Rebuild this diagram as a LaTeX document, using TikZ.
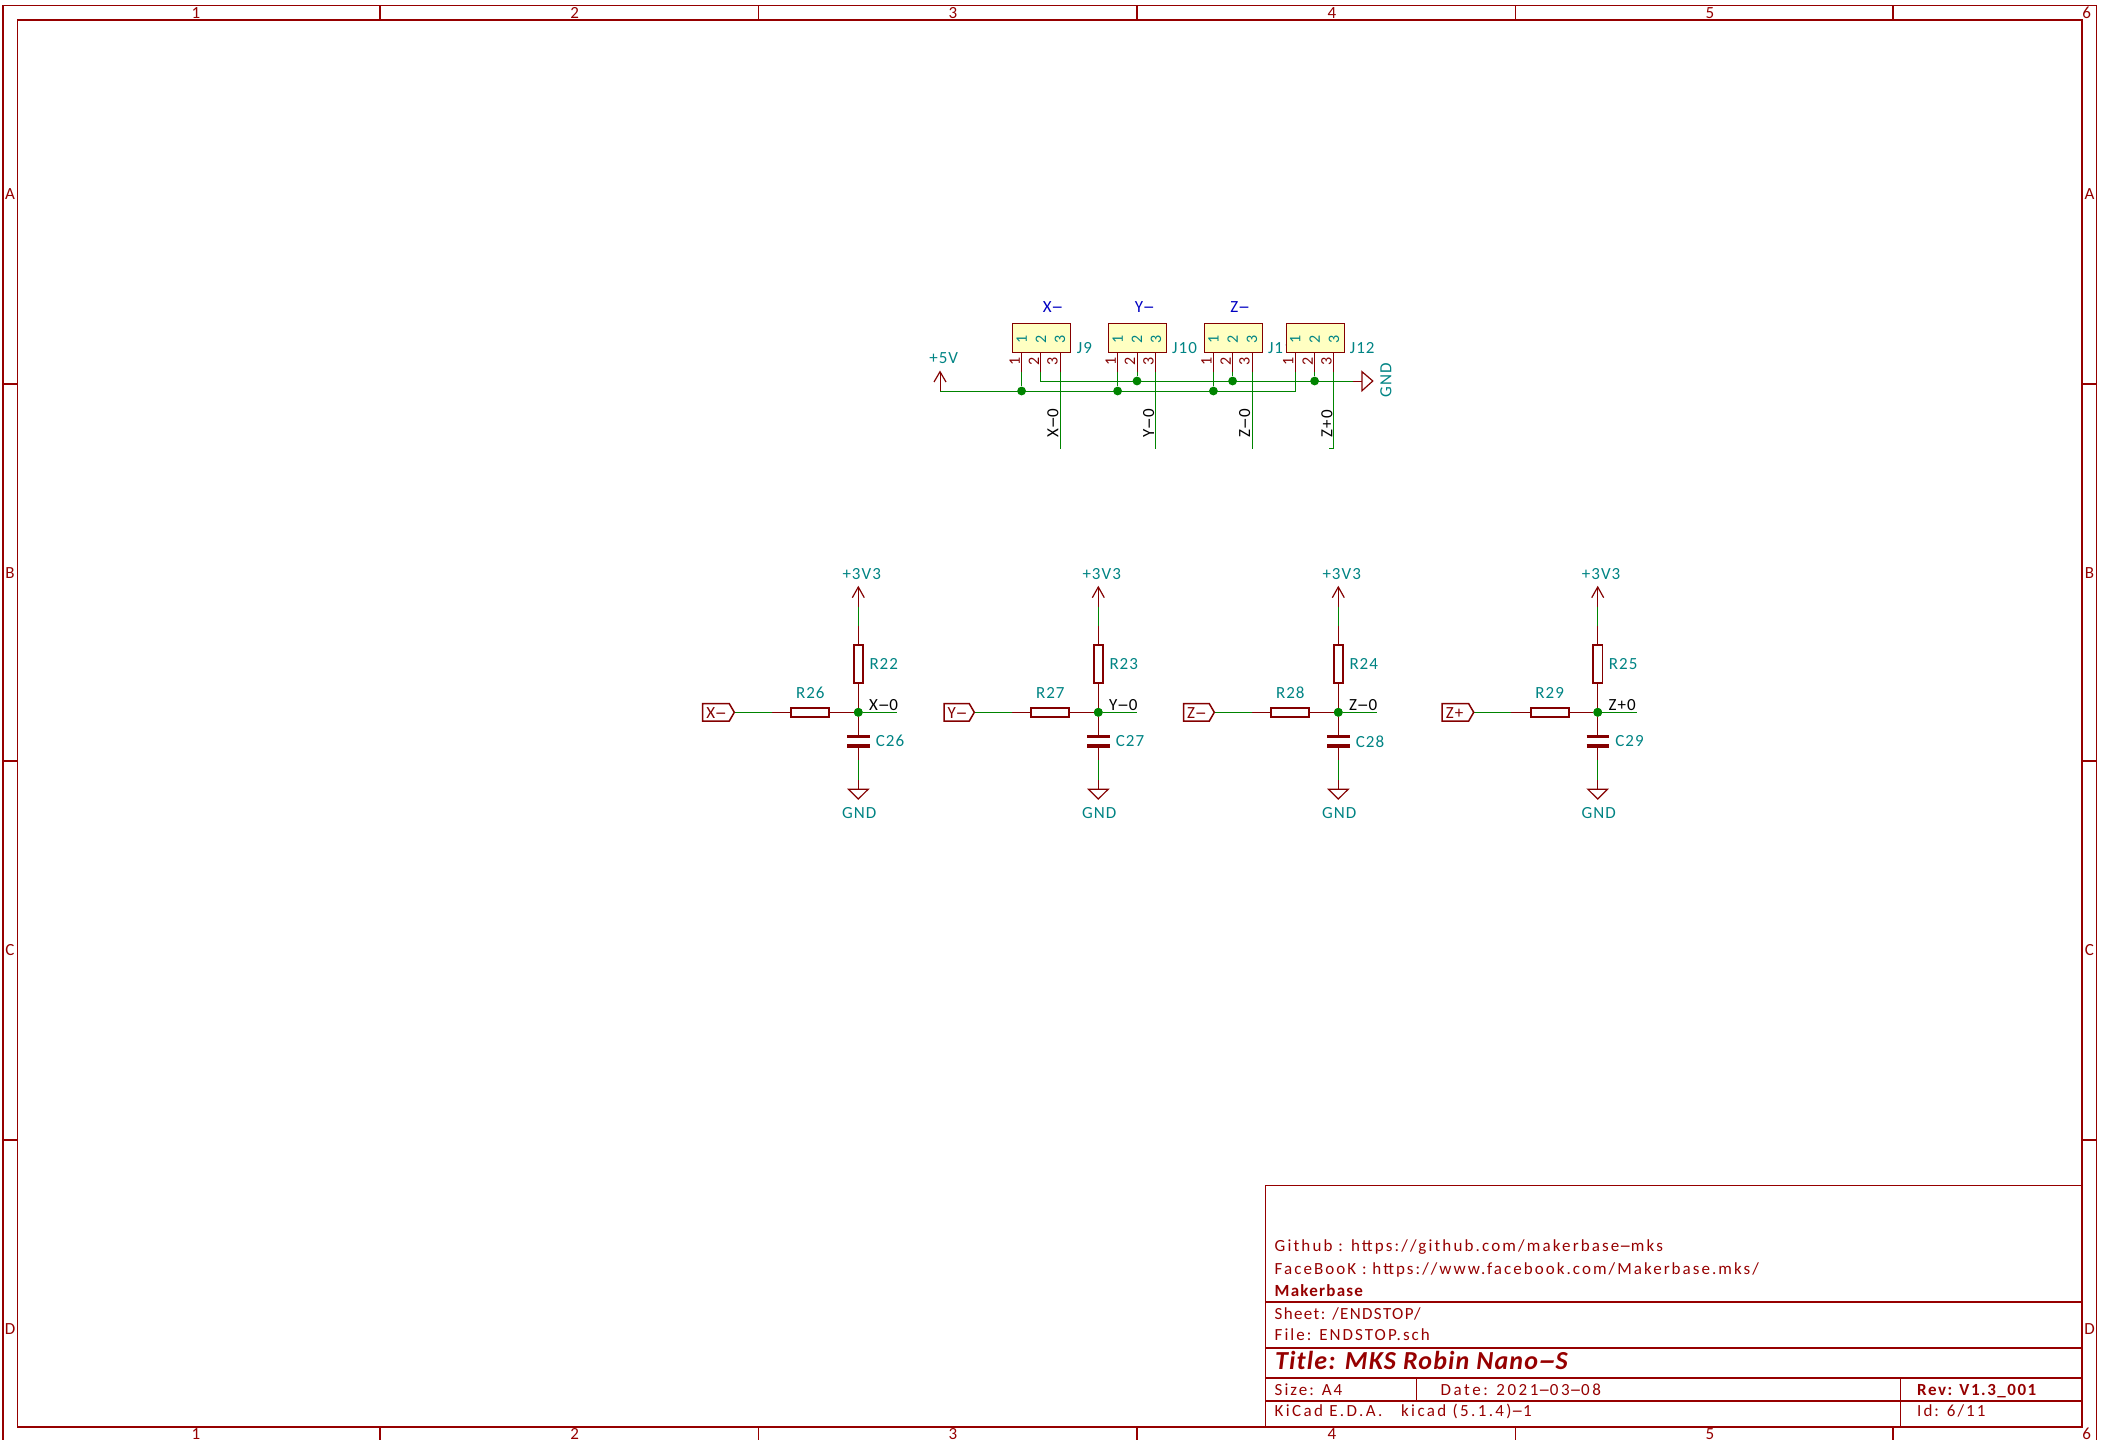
\documentclass[tikz,border=0pt]{standalone}
\usepackage{fontspec}
\usepackage{graphicx}
\setmainfont[LetterSpace=12]{Carlito}
\newfontfamily\schfont[LetterSpace=6]{Carlito}
\newfontfamily\tbbold[LetterSpace=4.4]{Carlito}
\newfontfamily\mkfont[LetterSpace=7.3]{Carlito}
\newfontfamily\revfont[LetterSpace=9]{Carlito}
\newfontfamily\sheetfont[LetterSpace=8]{Carlito}
\newfontfamily\datefont[LetterSpace=15]{Carlito}
\newfontfamily\gitfont[LetterSpace=12.6]{Carlito}
\newfontfamily\kifont[LetterSpace=14]{Carlito}
\definecolor{kred}{HTML}{840000}
\definecolor{fred}{HTML}{960000}
\definecolor{kgreen}{HTML}{008400}
\definecolor{kteal}{HTML}{008484}
\definecolor{kblue}{HTML}{0000C2}
\definecolor{kyellow}{HTML}{FFFFC2}
\newcommand\hy{\scalebox{2.2}[1]{-}}
\tikzset{
  x=1pt,y=-1pt,
  frameline/.style={draw=fred,line width=1.1pt},
  frametext/.style={text=fred,font=\fontsize{17}{17}\selectfont,inner sep=0pt},
  tbtext/.style={text=fred,font=\fontsize{17}{17}\selectfont,inner sep=0pt,anchor=base west},
  wire/.style={draw=kgreen,line width=1pt},
  pinline/.style={draw=kred,line width=1pt},
  symline/.style={draw=kred,line width=1.2pt,line join=miter},
  comp/.style={draw=kred,line width=1.8pt,inner sep=0pt,minimum width=9.4pt,minimum height=38pt},
  comph/.style={draw=kred,line width=1.8pt,inner sep=0pt,minimum width=38pt,minimum height=9pt},
  plate/.style={draw=kred,line width=3.2pt},
  jdot/.style={circle,fill=kgreen,inner sep=0pt,minimum size=8.8pt},
  lab/.style={text=kteal,font=\schfont\fontsize{17}{17}\selectfont,inner sep=0pt},
  netlab/.style={text=black,font=\schfont\fontsize{17}{17}\selectfont,inner sep=0pt},
  vallab/.style={text=kblue,font=\schfont\fontsize{17}{17}\selectfont,inner sep=0pt},
  pinno/.style={text=kred,font=\schfont\fontsize{16}{16}\selectfont,inner sep=0pt,rotate=90},
  pinin/.style={text=kteal,font=\schfont\fontsize{16}{16}\selectfont,inner sep=0pt,rotate=90},
  hierlab/.style={text=kred,font=\schfont\fontsize{17}{17}\selectfont,inner sep=0pt},
  connbox/.style={draw=kred,fill=kyellow,line width=1.4pt,inner sep=0pt,minimum width=57.8pt,minimum height=29.4pt}
}
% dx, id/top R number, side R number, cap number, hier text, net text, hier left x
\newcommand\block[7]{%
\begin{scope}[xshift=#1pt]
  \coordinate (tip#2) at (858.3,587);
  \coordinate (pa#2) at (858.3,606.7);
  \coordinate (pb#2) at (858.3,626);
  \coordinate (wa#2) at (734.3,712.3);
  \coordinate (wb#2) at (772,712.3);
  \coordinate (ne#2) at (897.3,712.3);
  \coordinate (ca#2) at (858.3,736.3);
  \coordinate (cb#2) at (858.3,746);
  \coordinate (ga#2) at (858.3,760);
  \coordinate (gb#2) at (858.3,780);
  \coordinate (gc#2) at (858.3,789.3);
  \node[comp,fill=white] (R#2) at (858.3,664.3) {};
  \node[comph,fill=white] (R#3) at (810.2,712.3) {};
  \node[jdot] (J#2) at (858.3,712.3) {};
  \draw[pinline] (tip#2) -- (pa#2);
  \draw[wire] (pa#2) -- (pb#2);
  \draw[pinline] (pb#2) -- (R#2.north);
  \draw[pinline] (R#2.south) -- (J#2);
  \draw[wire] (wa#2) -- (wb#2);
  \draw[pinline] (wb#2) -- (R#3.west);
  \draw[pinline] (R#3.east) -- (J#2);
  \draw[wire] (J#2) -- (ne#2);
  \draw[pinline] (J#2) -- (ca#2);
  \draw[pinline] (cb#2) -- (ga#2);
  \draw[wire] (ga#2) -- (gb#2);
  \draw[pinline] (gb#2) -- (gc#2);
  \node[jdot] at (J#2) {};
  \draw[plate] ($(ca#2)+(-11.2,0)$) -- ($(ca#2)+(11.2,0)$);
  \draw[plate] ($(cb#2)+(-11.2,0)$) -- ($(cb#2)+(11.2,0)$);
  \draw[symline] (852.3,597.7) -- (tip#2) -- (864.3,597.7);
  \draw[symline] (848.5,789.3) -- (868.1,789.3) -- (858.3,799) -- cycle;
  \draw[symline,line width=1.5pt] (#7,703.7) -- (729.3,703.7) -- (wa#2) -- (729.3,721) -- (#7,721) -- cycle;
  \node[hierlab,anchor=west] (H#2) at (#7+3.5,712.6) {#5};
  \node[netlab,anchor=base west] (N#2) at (869,710.7) {#6};
  \node[lab] (P#2) at (861.7,574) {+3V3};
  \node[lab] (G#2) at (859.3,813) {GND};
  \node[lab,anchor=west] (LR#2) at (869.3,663.7) {R#2};
  \node[lab] (LR#3) at (810.3,693) {R#3};
  \node[lab,anchor=west] (LC#4) at (875.7,741.3) {C#4};
\end{scope}}
% connector: id, box left x, pin1 x, pin2 x, pin3 x, ref left x, ref text
\newcommand\conn[7]{%
  \node[connbox,anchor=west] (#1) at (#2,338) {};
  \coordinate (#1a) at (#3,372);
  \coordinate (#1b) at (#4,372);
  \coordinate (#1c) at (#5,372);
  \draw[pinline] (#3,352.7) -- (#1a);
  \draw[pinline] (#4,352.7) -- (#1b);
  \draw[pinline] (#5,352.7) -- (#1c);
  \node[pinin] at (#3,339) {1};
  \node[pinin] at (#4,339) {2};
  \node[pinin] at (#5,339) {3};
  \node[pinno] at (#3-7,361.7) {1};
  \node[pinno] at (#4-7,361.7) {2};
  \node[pinno] at (#5-7.5,361.7) {3};
  \node[lab,anchor=west] (ref#1) at (#6,348.3) {#7};
}
\usetikzlibrary{calc}
\begin{document}
\begin{tikzpicture}
\useasboundingbox (0,0) rectangle (2105,1440);
\fill[white] (0,0) rectangle (2105,1440);
% frame
\draw[frameline] (3,5.5) rectangle (2096.7,1441);
\draw[frameline] (17.5,20) rectangle (2082,1427);
\foreach \x in {380,758.5,1137,1515.7,1893}{
  \draw[frameline] (\x,5.5) -- (\x,20);
  \draw[frameline] (\x,1427) -- (\x,1441);
}
\foreach \y in {384,761,1140}{
  \draw[frameline] (3,\y) -- (17.5,\y);
  \draw[frameline] (2082,\y) -- (2096.7,\y);
}
\foreach \t/\x [count=\i] in {1/196,2/574.6,3/953,4/1332,5/1710,6/2086.7}{
  \node[frametext] (nt\i) at (\x,12.7) {\t};
  \node[frametext] (nb\i) at (\x,1433.6) {\t};
}
\foreach \t/\y in {A/194.5,B/573,C/950.5,D/1329}{
  \node[frametext] (ll\t) at (10,\y) {\t};
  \node[frametext] (lr\t) at (2089.5,\y) {\t};
}
% title block
\draw[frameline] (1265.3,1185.4) rectangle (2082,1427);
\draw[frameline] (1265.3,1302) -- (2082,1302);
\draw[frameline] (1265.3,1348) -- (2082,1348);
\draw[frameline] (1265.3,1378) -- (2082,1378);
\draw[frameline] (1265.3,1401) -- (2082,1401);
\draw[frameline] (1416.3,1378) -- (1416.3,1401);
\draw[frameline] (1900.5,1378) -- (1900.5,1427);
\node[tbtext,font=\gitfont\fontsize{17}{17}\selectfont] (tb1) at (1274.5,1251.7) {Github : https://github.com/makerbase\hy mks};
\node[tbtext] (tb2) at (1274.5,1274.7) {FaceBooK : https://www.facebook.com/Makerbase.mks/};
\node[tbtext,font=\mkfont\fontsize{17}{17}\selectfont\bfseries] (tb3) at (1274.5,1296.7) {Makerbase};
\node[tbtext,font=\sheetfont\fontsize{17}{17}\selectfont] (tb4) at (1274.5,1319.3) {Sheet: /ENDSTOP/};
\node[tbtext] (tb5) at (1274.5,1340) {File: ENDSTOP.sch};
\node[tbtext,font=\tbbold\fontsize{26}{26}\selectfont\bfseries\itshape] (tb6) at (1275,1369) {Title: MKS Robin Nano\hy S};
\node[tbtext] (tb7) at (1274.5,1395.7) {Size: A4};
\node[tbtext,font=\datefont\fontsize{17}{17}\selectfont] (tb8) at (1440.5,1395.7) {Date: 2021\hy 03\hy 08};
\node[tbtext,font=\revfont\fontsize{17}{17}\selectfont\bfseries] (tb9) at (1917,1395.7) {Rev: V1.3\_001};
\node[tbtext,font=\kifont\fontsize{17}{17}\selectfont] (tb10) at (1274.5,1416.7) {KiCad E.D.A.\ \ \ kicad (5.1.4)\hy 1};
\node[tbtext] (tb11) at (1917,1416.7) {Id: 6/11};
% connectors
\conn{J9}{1012}{1021.6}{1040.8}{1060}{1076.7}{J9}
\conn{J10}{1108}{1117.6}{1137}{1155.9}{1172}{J10}
\conn{J11}{1204}{1213.4}{1232.6}{1252}{1267.8}{J11}
\conn{J12}{1285.7}{1295.3}{1314.6}{1333.9}{1349.7}{J12}
\node[vallab] (vX) at (1053,306.7) {X\hy};
\node[vallab] (vY) at (1144.8,306.7) {Y\hy};
\node[vallab] (vZ) at (1240,306.7) {Z\hy};
% power nets
\coordinate (p5tip) at (940,371.7);
\coordinate (p5) at (940,391);
\coordinate (gndwire) at (1352.8,381);
\coordinate (gndbase) at (1362,381);
\coordinate (g1) at (1040.8,381);
\coordinate (p2) at (1295.3,391);
\draw[pinline] (p5tip) -- (p5);
\draw[symline] (934,382) -- (p5tip) -- (946,382);
\draw[wire] (p5) -- (p2) -- (J12a);
\draw[wire] (J9b) -- (g1) -- (gndwire);
\draw[pinline] (gndwire) -- (gndbase);
\draw[symline] (1362,371.7) -- (1362,390.7) -- (1372.8,381) -- cycle;
\foreach \n/\x in {a/1137,b/1232.6,c/1314.6}{
  \node[jdot] (dg\n) at (\x,381) {};
}
\draw[wire] (J10b) -- (dga);
\draw[wire] (J11b) -- (dgb);
\draw[wire] (J12b) -- (dgc);
\foreach \n/\x in {a/1021.6,b/1117.6,c/1213.4}{
  \node[jdot] (dp\n) at (\x,391) {};
}
\draw[wire] (J9a) -- (dpa);
\draw[wire] (J10a) -- (dpb);
\draw[wire] (J11a) -- (dpc);
\coordinate (e1) at (1060,448.7);
\coordinate (e2) at (1155.9,448.7);
\coordinate (e3) at (1252,448.7);
\coordinate (e4) at (1333.9,448.7);
\coordinate (e4s) at (1328.7,448.7);
\draw[wire] (J9c) -- (e1);
\draw[wire] (J10c) -- (e2);
\draw[wire] (J11c) -- (e3);
\draw[wire] (J12c) -- (e4) -- (e4s);
\node[lab] (t5v) at (943.7,358) {+5V};
\node[lab,rotate=90] (tgnd) at (1386,380) {GND};
\node[netlab,rotate=90,anchor=west] (nX) at (1053,437.5) {X\hy 0};
\node[netlab,rotate=90,anchor=west] (nY) at (1148.6,437.5) {Y\hy 0};
\node[netlab,rotate=90,anchor=west] (nZ) at (1244.7,437.5) {Z\hy 0};
\node[netlab,rotate=90,anchor=west] (nZp) at (1327,437.5) {Z+0};
% RC blocks
\block{0}{22}{26}{26}{X\hy}{X\hy 0}{702.7}
\block{240}{23}{27}{27}{Y\hy}{Y\hy 0}{704}
\block{480}{24}{28}{28}{Z\hy}{Z\hy 0}{703.5}
\block{739.4}{25}{29}{29}{Z+}{Z+0}{702.7}
\end{tikzpicture}
\end{document}
